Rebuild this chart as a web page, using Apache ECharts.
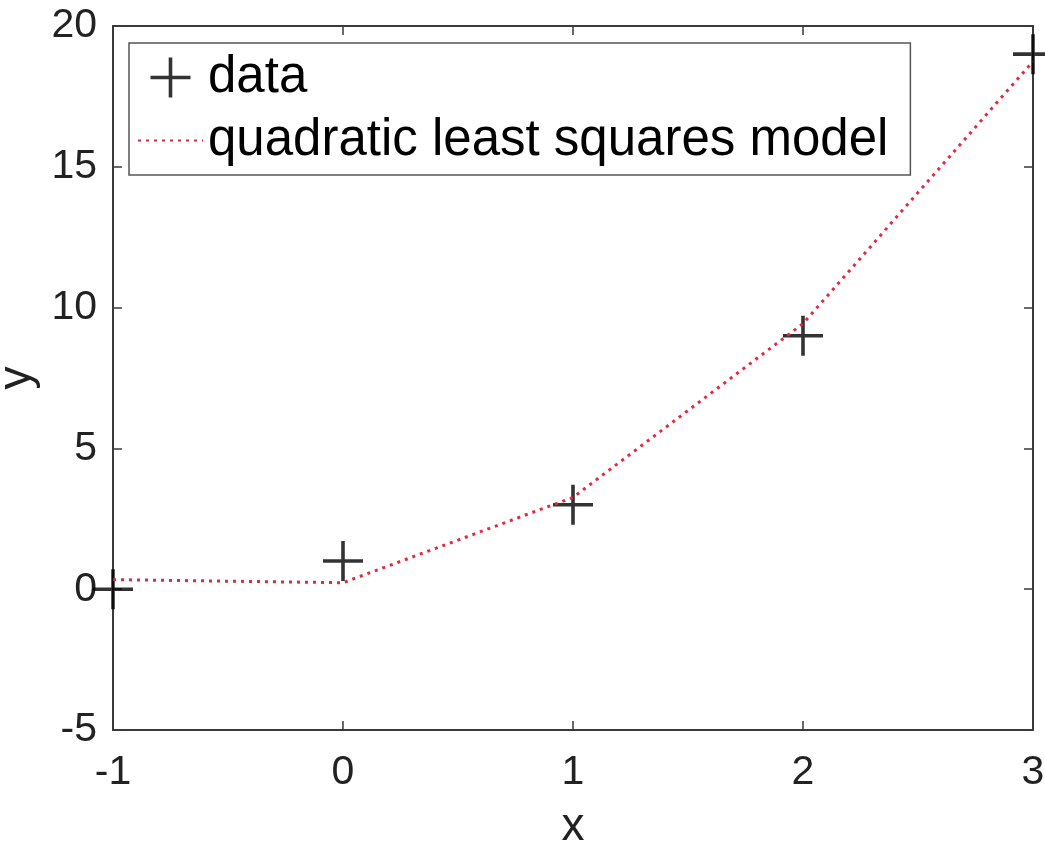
<!DOCTYPE html>
<html>
<head>
<meta charset="utf-8">
<script src="https://cdn.jsdelivr.net/npm/echarts@6/dist/echarts.min.js"></script>
<style>
html,body{margin:0;padding:0;background:#fff;}
#chart{width:1045px;height:843px;}
</style>
</head>
<body>
<div id="chart"></div>
<script>
// data
const xValues = [-1, 0, 1, 2, 3];
const dataY = [0, 1, 3, 9, 19];
const modelY = [0.34, 0.23, 3.26, 9.43, 18.74];
const xTicks = [-1, 0, 1, 2, 3];
const yTicks = [-5, 0, 5, 10, 15, 20];
const seriesNames = ['data', 'quadratic least squares model'];

const FONT = '"Liberation Sans", Arial, Helvetica, sans-serif';
const AXIS_COLOR = '#3a3a3a';
const plusPath = 'path://M-1,-0.09H1V0.09H-1Z M-0.09,-1H0.09V1H-0.09Z';

const chart = echarts.init(document.getElementById('chart'));

function axisBase(extra) {
  return Object.assign({
    type: 'value',
    axisLine: { show: true, onZero: false, lineStyle: { color: AXIS_COLOR, width: 2 } },
    axisTick: { show: true, inside: true, length: 9, lineStyle: { color: AXIS_COLOR, width: 1.5 } },
    splitLine: { show: false },
  }, extra);
}

const option = {
  backgroundColor: '#fff',
  animation: false,
  textStyle: { fontFamily: FONT },
  grid: { left: 113, right: 12, top: 26, bottom: 113, containLabel: false, outerBoundsMode: 'none' },
  legend: {
    show: true,
    orient: 'vertical',
    left: 129,
    top: 43,
    padding: [9, 22, 9, 8],
    itemGap: 12,
    itemWidth: 65,
    itemHeight: 40,
    backgroundColor: '#fff',
    borderColor: '#555',
    borderWidth: 1.5,
    borderRadius: 0,
    selectedMode: false,
    textStyle: { fontSize: 51, color: '#000', fontFamily: FONT, lineHeight: 50 },
    data: [
      { name: seriesNames[0] },
      { name: seriesNames[1], itemStyle: { opacity: 0 } }
    ]
  },
  xAxis: [
    axisBase({
      min: xTicks[0], max: xTicks[xTicks.length - 1], interval: 1,
      position: 'bottom',
      name: 'x', nameLocation: 'middle', nameGap: 74,
      nameTextStyle: { fontSize: 46, color: '#222', fontFamily: FONT },
      axisLabel: { show: true, fontSize: 41, color: '#222', margin: 22, fontFamily: FONT }
    }),
    axisBase({
      min: xTicks[0], max: xTicks[xTicks.length - 1], interval: 1,
      position: 'top',
      axisLabel: { show: false }
    })
  ],
  yAxis: [
    axisBase({
      min: yTicks[0], max: yTicks[yTicks.length - 1], interval: 5,
      position: 'left',
      name: 'y', nameLocation: 'middle', nameGap: 69,
      nameTextStyle: { fontSize: 46, color: '#222', fontFamily: FONT },
      axisLabel: { show: true, fontSize: 41, color: '#222', margin: 16, fontFamily: FONT }
    }),
    axisBase({
      min: yTicks[0], max: yTicks[yTicks.length - 1], interval: 5,
      position: 'right',
      axisLabel: { show: false }
    })
  ],
  series: [
    {
      name: seriesNames[0],
      type: 'scatter',
      symbol: plusPath,
      symbolSize: 40,
      clip: false,
      itemStyle: { color: '#000' },
      data: xValues.map((x, i) => [x, dataY[i]]),
      z: 3
    },
    {
      name: seriesNames[1],
      type: 'line',
      showSymbol: false,
      symbol: 'none',
      clip: false,
      lineStyle: { color: '#e02a3f', width: 3, type: [3, 5] },
      itemStyle: { color: '#e02a3f' },
      data: xValues.map((x, i) => [x, modelY[i]]),
      z: 4
    }
  ]
};
chart.setOption(option);
</script>
</body>
</html>
